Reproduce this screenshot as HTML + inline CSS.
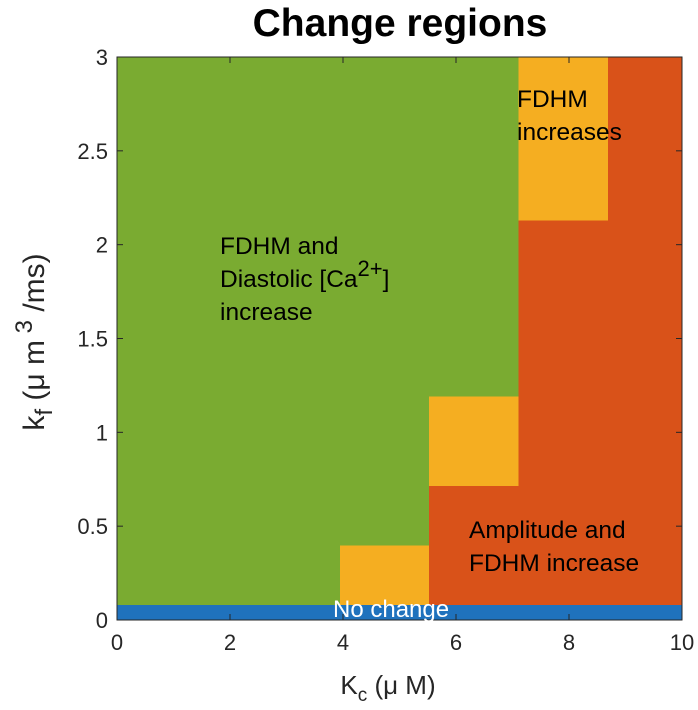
<!DOCTYPE html>
<html><head><meta charset="utf-8"><style>
body{margin:0;background:#fff;}
svg{display:block;font-family:"Liberation Sans",Helvetica,Arial,sans-serif;}
</style></head><body>
<svg id="chart" width="698" height="710">
<g id="cells"></g>
<g id="axes"></g>
<text x="400" y="36" text-anchor="middle" font-size="39" font-weight="bold">Change regions</text>
<text font-size="24.5"><tspan x="220" y="254">FDHM and</tspan><tspan x="220" y="287">Diastolic [Ca</tspan><tspan dy="-11" font-size="22">2+</tspan><tspan dy="11">]</tspan><tspan x="220" y="320">increase</tspan></text>
<text font-size="24.5"><tspan x="517" y="107">FDHM</tspan><tspan x="517" y="140">increases</tspan></text>
<text font-size="24.5"><tspan x="469" y="538">Amplitude and</tspan><tspan x="469" y="571">FDHM increase</tspan></text>
<text x="333" y="617" font-size="24" fill="#fff">No change</text>
<text x="388" y="694" text-anchor="middle" font-size="26" fill="#262626">K<tspan dy="7" font-size="19">c</tspan><tspan dy="-7"> (μ M)</tspan></text>
<text transform="translate(44,342) rotate(-90)" text-anchor="middle" font-size="30" fill="#262626">k<tspan dy="8" font-size="24">f</tspan><tspan dy="-8"> (μ m</tspan><tspan dy="-12" font-size="24"> 3</tspan><tspan dy="12"> /ms)</tspan></text>
</svg>
<script>
const xTicks=[0,2,4,6,8,10];
const yTicks=[0,0.5,1,1.5,2,2.5,3];
const regionX0=[0,0,3.95,5.52,5.52,7.11,7.11,8.69];
const regionX1=[10,10,5.52,10,7.11,10,8.69,10];
const regionY0=[0,0.08,0.08,0.08,0.715,0.715,2.13,2.13];
const regionY1=[0.08,3,0.396,0.715,1.19,3,3,3];
const regionCat=["none","green","orange","red","orange","red","orange","red"];
const colors={none:"#1f72bd",green:"#7aab31",orange:"#f5ae21",red:"#d95219"};
const L=117,R=682,T=57,B=620;
const xs=v=>L+(v-0)/(10-0)*(R-L);
const ys=v=>B-(v-0)/(3-0)*(B-T);
const NS="http://www.w3.org/2000/svg";
const cells=document.getElementById('cells');
for(let i=0;i<regionCat.length;i++){
 const r=document.createElementNS(NS,'rect');
 r.setAttribute('x',xs(regionX0[i]));r.setAttribute('width',xs(regionX1[i])-xs(regionX0[i]));
 r.setAttribute('y',ys(regionY1[i]));r.setAttribute('height',ys(regionY0[i])-ys(regionY1[i]));
 r.setAttribute('fill',colors[regionCat[i]]);
 r.setAttribute('shape-rendering','crispEdges');
 
 
 cells.appendChild(r);
}
const ax=document.getElementById('axes');
function add(tag,attrs,txt){const e=document.createElementNS(NS,tag);for(const k in attrs)e.setAttribute(k,attrs[k]);if(txt!==undefined)e.textContent=txt;ax.appendChild(e);return e;}
const box=add('rect',{x:L,y:T,width:R-L,height:B-T,fill:'none',stroke:'#262626','stroke-width':1});


xTicks.forEach(v=>{
 const x=xs(v);
 add('line',{x1:x,x2:x,y1:B,y2:B-6,stroke:'#262626'});
 add('line',{x1:x,x2:x,y1:T,y2:T+6,stroke:'#262626'});
 const t=add('text',{x:x,y:B+30,'text-anchor':'middle','font-size':22,fill:'#262626'},String(v));
 
 
});
yTicks.forEach(v=>{
 const y=ys(v);
 add('line',{x1:L,x2:L+6,y1:y,y2:y,stroke:'#262626'});
 add('line',{x1:R,x2:R-6,y1:y,y2:y,stroke:'#262626'});
 const t=add('text',{x:L-9,y:y+8,'text-anchor':'end','font-size':22,fill:'#262626'},String(v));
 
 
});
</script>
</body></html>
